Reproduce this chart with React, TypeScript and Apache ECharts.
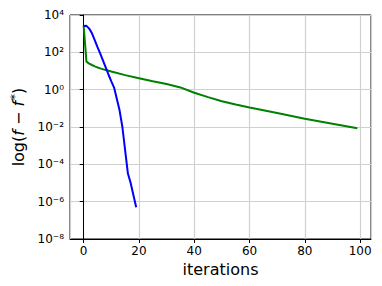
import React, { useEffect, useRef } from "react";
import * as echarts from "echarts";

const blueIterations = [0, 1, 2, 3, 4, 5, 6, 7, 8, 9, 10, 11, 12, 13, 14, 15, 16, 17, 18, 19];
const blueValues = [2.57e3, 2.63e3, 1.86e3, 1.05e3, 4.47e2, 1.9e2, 85, 36, 15, 6.3, 2.8, 1.3, 0.32, 0.076, 0.01, 5.6e-4, 3.2e-5, 1.0e-5, 2.2e-6, 5.0e-7];

const greenIterations = [0, 1, 2, 3, 4, 5, 6, 8, 10, 15, 20, 25, 30, 35, 40, 45, 50, 55, 60, 70, 80, 90, 99];
const greenValues = [2.57e3, 31.6, 25, 21, 17.8, 15.5, 13.8, 11.2, 9.3, 6.0, 4.1, 2.8, 2.0, 1.32, 0.68, 0.40, 0.24, 0.162, 0.112, 0.056, 0.0275, 0.0148, 0.0085];

const yExponents = [-8, -6, -4, -2, 0, 2, 4];
const xTicks = [0, 20, 40, 60, 80, 100];

const SUP: Record<string, string> = { "-": "\u207B", "0": "\u2070", "1": "\u00B9", "2": "\u00B2", "3": "\u00B3", "4": "\u2074", "5": "\u2075", "6": "\u2076", "7": "\u2077", "8": "\u2078", "9": "\u2079" };

function toPairs(xs: number[], vs: number[]) {
  return xs.map((x, i) => [x, Math.log10(vs[i])]);
}

export default function App() {
  const ref = useRef<HTMLDivElement>(null);
  useEffect(() => {
    if (!ref.current) return;
    const chart = echarts.init(ref.current, null, { renderer: "svg" });
    const font = "DejaVu Sans";
    chart.setOption({
      animation: false,
      backgroundColor: "#ffffff",
      grid: { left: 70, right: 11, top: 15, bottom: 47, show: true, borderColor: "#000", borderWidth: 1, backgroundColor: "transparent" },
      xAxis: {
        type: "value",
        min: -4.95,
        max: 103.95,
        splitNumber: 5,
        name: "iterations",
        nameLocation: "middle",
        nameGap: 21,
        nameTextStyle: { fontFamily: font, fontSize: 16, color: "#000" },
        axisLine: { show: true, onZero: false, lineStyle: { color: "#000", width: 1 } },
        axisTick: { show: true, inside: false, length: 4, lineStyle: { color: "#000" } },
        axisLabel: {
          fontFamily: font,
          fontSize: 12,
          color: "#000",
          margin: 6,
          showMinLabel: false,
          showMaxLabel: false,
          formatter: (v: number) => (xTicks.includes(Math.round(v * 1000) / 1000) ? String(v) : ""),
        },
        splitLine: { show: true, lineStyle: { color: "#d0d0d0", width: 1.2 } },
      },
      yAxis: {
        type: "value",
        min: yExponents[0],
        max: yExponents[yExponents.length - 1],
        interval: 2,
        name: "{n|log(}{i|f}{n| \u2212 }{i|f}{s|*}{n|)}",
        nameLocation: "middle",
        nameGap: 41,
        nameRotate: 90,
        nameTextStyle: {
          fontFamily: font,
          fontSize: 16,
          color: "#000",
          rich: {
            n: { fontFamily: font, fontSize: 16, color: "#000" },
            i: { fontFamily: font, fontSize: 16, fontStyle: "italic", color: "#000" },
            s: { fontFamily: font, fontSize: 12, color: "#000", padding: [0, 0, 7, 1] },
          },
        },
        axisLine: { show: true, lineStyle: { color: "#000", width: 1 } },
        axisTick: { show: true, inside: false, length: 4, lineStyle: { color: "#000" } },
        axisLabel: {
          fontFamily: font,
          fontSize: 12,
          color: "#000",
          margin: 6,
          formatter: (v: number) =>
            "10" + String(Math.round(v)).split("").map((c) => SUP[c] || c).join(""),
        },
        splitLine: { show: true, lineStyle: { color: "#d0d0d0", width: 1.2 } },
      },
      series: [
        {
          type: "line",
          data: toPairs(greenIterations, greenValues),
          showSymbol: false,
          lineStyle: { color: "#008000", width: 2 },
          z: 3,
        },
        {
          type: "line",
          data: toPairs(blueIterations, blueValues),
          showSymbol: false,
          lineStyle: { color: "#0000ff", width: 2 },
          z: 4,
        },
      ],
    });
    return () => chart.dispose();
  }, []);
  return <div ref={ref} style={{ position: "fixed", left: 0, top: 0, width: 382, height: 286 }} />;
}
